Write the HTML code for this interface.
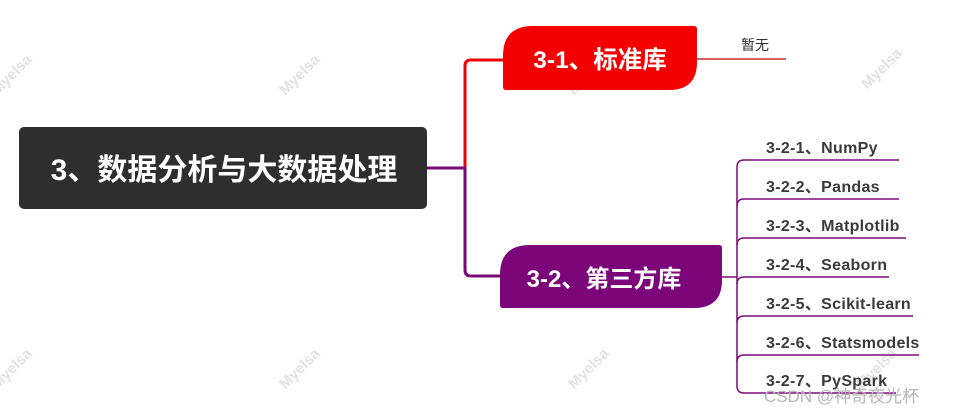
<!DOCTYPE html>
<html><head><meta charset="utf-8"><style>
html,body{margin:0;padding:0;background:#fff;width:965px;height:413px;overflow:hidden}
svg{display:block}
.wm{font-family:"Liberation Sans",sans-serif;font-weight:bold;font-size:15px;fill:#e2e2e2}
.sub{font-family:"Liberation Sans","Noto Sans CJK SC",sans-serif;font-weight:bold;font-size:16px;letter-spacing:0.3px;fill:#3a3a3a}
</style></head><body>
<svg width="965" height="413" viewBox="0 0 965 413" xmlns="http://www.w3.org/2000/svg">
<g class="wm">
<text transform="translate(15,78) rotate(-45)" text-anchor="middle">Myelsa</text>
<text transform="translate(303,78) rotate(-45)" text-anchor="middle">Myelsa</text>
<text transform="translate(592,78) rotate(-45)" text-anchor="middle">Myelsa</text>
<text transform="translate(885,72) rotate(-45)" text-anchor="middle">Myelsa</text>
<text transform="translate(15,372) rotate(-45)" text-anchor="middle">Myelsa</text>
<text transform="translate(303,372) rotate(-45)" text-anchor="middle">Myelsa</text>
<text transform="translate(592,372) rotate(-45)" text-anchor="middle">Myelsa</text>
<text transform="translate(880,372) rotate(-45)" text-anchor="middle">Myelsa</text>
</g>
<path d="M465,168 V66 Q465,60 471,60 H505" fill="none" stroke="#f00000" stroke-width="3"/>
<path d="M427,168 H465 V270 Q465,276 471,276 H502" fill="none" stroke="#7a0a7a" stroke-width="3"/>
<line x1="697" y1="59" x2="786" y2="59" stroke="#c00000" stroke-width="1.3"/>
<rect x="19" y="127" width="408" height="82" rx="5" fill="#2e2e2e"/>
<text x="224" y="180" text-anchor="middle" fill="#fff" font-family="Liberation Sans,'Noto Sans CJK SC',sans-serif" font-weight="bold" font-size="30">3、数据分析与大数据处理</text>
<path d="M533,26 H694 Q697,26 697,29 V62 Q697,90 669,90 H506 Q503,90 503,87 V56 Q503,26 533,26 Z" fill="#f50000"/>
<text x="600" y="68" text-anchor="middle" fill="#fff" font-family="Liberation Sans,'Noto Sans CJK SC',sans-serif" font-weight="bold" font-size="24.5">3-1、标准库</text>
<text x="741" y="50" font-family="Liberation Sans,'Noto Sans CJK SC',sans-serif" font-size="14" fill="#333">暂无</text>
<path d="M530,245 H719 Q722,245 722,248 V280 Q722,308 694,308 H503 Q500,308 500,305 V275 Q500,245 530,245 Z" fill="#7b0579"/>
<text x="604" y="287" text-anchor="middle" fill="#fff" font-family="Liberation Sans,'Noto Sans CJK SC',sans-serif" font-weight="bold" font-size="24">3-2、第三方库</text>
<g fill="none" stroke="#7b0a7b" stroke-width="1.5">
<line x1="722" y1="277" x2="737" y2="277"/>
<path d="M737,167 Q737,160 744,160 H899"/>
<path d="M737,206 Q737,199 744,199 H899"/>
<path d="M737,245 Q737,238 744,238 H906"/>
<path d="M737,284 Q737,277 744,277 H889"/>
<path d="M737,323 Q737,316 744,316 H913"/>
<path d="M737,362 Q737,355 744,355 H919"/>
<path d="M737,167 V386 Q737,393 744,393 H896"/>
</g>
<g class="sub">
<text x="766" y="153">3-2-1、NumPy</text>
<text x="766" y="192">3-2-2、Pandas</text>
<text x="766" y="231">3-2-3、Matplotlib</text>
<text x="766" y="270">3-2-4、Seaborn</text>
<text x="766" y="309">3-2-5、Scikit-learn</text>
<text x="766" y="348">3-2-6、Statsmodels</text>
<text x="766" y="386">3-2-7、PySpark</text>
</g>
<text x="764" y="402" font-family="Liberation Sans,'Noto Sans CJK SC',sans-serif" font-size="17" fill="#b5b5b5">CSDN @神奇夜光杯</text>
</svg>
</body></html>
